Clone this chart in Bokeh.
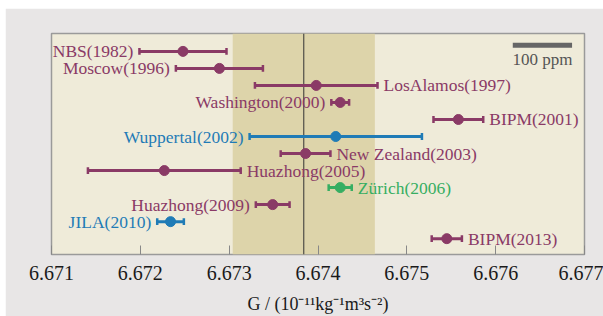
from bokeh.plotting import figure
from bokeh.models import Range1d, FixedTicker, BoxAnnotation, Span, ColumnDataSource
from bokeh.core.properties import value
from bokeh.embed import file_html
from bokeh.resources import INLINE

# ---- data ----
labels = ["NBS(1982)", "Moscow(1996)", "LosAlamos(1997)", "Washington(2000)", "BIPM(2001)",
          "Wuppertal(2002)", "New Zealand(2003)", "Huazhong(2005)", "Zürich(2006)",
          "Huazhong(2009)", "JILA(2010)", "BIPM(2013)"]
values = [6.67248, 6.67289, 6.67398, 6.67425, 6.67558, 6.67420, 6.67386, 6.67227,
          6.67425, 6.67349, 6.67234, 6.67545]
uncert = [0.00049, 0.00049, 0.00069, 0.00010, 0.00028, 0.00097, 0.00028, 0.00086,
          0.00013, 0.00019, 0.00015, 0.00017]
label_side = ["left", "left", "right", "left", "right", "left", "right", "right",
              "right", "left", "left", "right"]
groups = ["torsion", "torsion", "torsion", "torsion", "torsion", "beam", "torsion",
          "torsion", "beam2", "torsion", "beam", "torsion"]
codata_value = 6.67384
codata_uncert = 0.00080
ticks = [6.671, 6.672, 6.673, 6.674, 6.675, 6.676, 6.677]
scale_ppm = 100
scale_bar_end = 6.67686

PURPLE = "#8a3a66"
BLUE = "#1f7bb6"
GREEN = "#36ae62"
color_map = {"torsion": PURPLE, "beam": BLUE, "beam2": GREEN}
FONT = "Liberation Serif"

rows = list(range(len(labels)))
colors = [color_map[g] for g in groups]
lo = [v - u for v, u in zip(values, uncert)]
hi = [v + u for v, u in zip(values, uncert)]

p = figure(width=598, height=308, output_backend="svg", toolbar_location=None,
           x_range=Range1d(ticks[0], ticks[-1]), y_range=Range1d(11.93, -1.05),
           min_border_left=46, min_border_right=19, min_border_top=25, min_border_bottom=60)
p.margin = (8, 0, 0, 5)
p.border_fill_color = "#e8e6e6"
p.background_fill_color = "#efebd9"
p.outline_line_color = "#9a9a9a"
p.outline_line_width = 1.5
p.grid.visible = False
p.yaxis.visible = False

band = BoxAnnotation(left=codata_value - codata_uncert, right=codata_value + codata_uncert,
                     fill_color="#ddd4aa", fill_alpha=1.0, line_alpha=0, level="underlay")
p.add_layout(band)
p.add_layout(Span(location=codata_value, dimension="height", line_color="#333333",
                  line_width=1, level="underlay"))

src = ColumnDataSource(dict(y=rows, v=values, lo=lo, hi=hi, c=colors, label=labels,
                            ylo=[r - 0.2 for r in rows], yhi=[r + 0.2 for r in rows]))
p.segment(x0="lo", x1="hi", y0="y", y1="y", line_color="c", line_width=3, source=src)
p.segment(x0="lo", x1="lo", y0="ylo", y1="yhi", line_color="c", line_width=2.5, source=src)
p.segment(x0="hi", x1="hi", y0="ylo", y1="yhi", line_color="c", line_width=2.5, source=src)
p.scatter(x="v", y="y", size=10, fill_color="c", line_color="c", source=src)

L = [i for i in rows if label_side[i] == "left"]
R = [i for i in rows if label_side[i] == "right"]
srcL = ColumnDataSource(dict(x=[lo[i] for i in L], y=[rows[i] for i in L],
                             t=[labels[i] for i in L], c=[colors[i] for i in L]))
srcR = ColumnDataSource(dict(x=[hi[i] for i in R], y=[rows[i] for i in R],
                             t=[labels[i] for i in R], c=[colors[i] for i in R]))
p.text(x="x", y="y", text="t", text_color="c", source=srcL, x_offset=-6,
       text_align="right", text_baseline="middle", text_font=value(FONT), text_font_size="17.5px")
p.text(x="x", y="y", text="t", text_color="c", source=srcR, x_offset=6,
       text_align="left", text_baseline="middle", text_font=value(FONT), text_font_size="17.5px")

# scale bar: 100 ppm of G
scale_len = scale_ppm * 1e-6 * codata_value
p.segment(x0=[scale_bar_end - scale_len], x1=[scale_bar_end], y0=[-0.36], y1=[-0.36],
          line_color="#666666", line_width=5)
p.text(x=[scale_bar_end - scale_len / 2], y=[0.45], text=["100 ppm"], text_color="#555555",
       text_align="center", text_baseline="middle", text_font=value(FONT), text_font_size="17px")

ax = p.xaxis[0]
ax.ticker = FixedTicker(ticks=ticks)
ax.minor_tick_line_color = None
ax.major_tick_in = 9
ax.major_tick_out = 0
ax.major_tick_line_color = "#888888"
ax.axis_line_color = None
ax.major_label_text_font = FONT
ax.major_label_text_font_size = "20px"
ax.major_label_text_color = "#1a1a1a"
ax.major_label_standoff = 11
ax.axis_label = "G / (10⁻¹¹kg⁻¹m³s⁻²)"
ax.axis_label_text_font = FONT
ax.axis_label_text_font_style = "normal"
ax.axis_label_text_font_size = "18px"
ax.axis_label_text_color = "#1a1a1a"
ax.axis_label_standoff = 11

open("out.html", "w").write(file_html(p, INLINE))
